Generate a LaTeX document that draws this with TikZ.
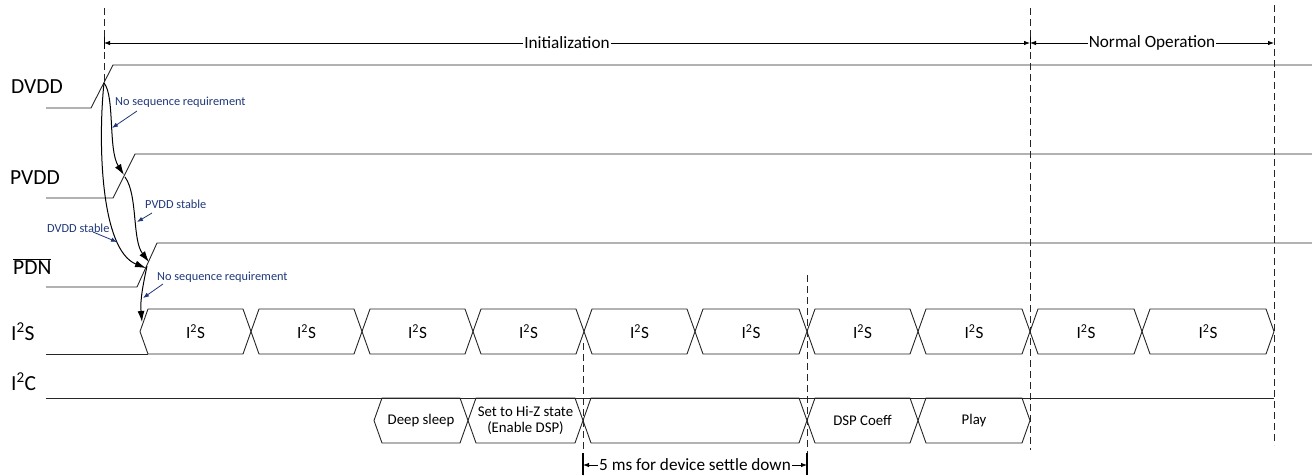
\documentclass[tikz,border=0pt]{standalone}
\usepackage{fontspec}
\setmainfont{Carlito}
\usetikzlibrary{arrows.meta}
\definecolor{navy}{RGB}{31,56,120}
\newcommand\hexbox[7]{%
  \draw[sig] (#1,{(#3+#4)/2}) -- (#1+8,#3) -- (#2-8,#3) -- (#2,{(#3+#4)/2}) -- (#2-8,#4) -- (#1+8,#4) -- cycle;
  \node[#7,align=center] (#5) at ({(#1+#2)/2},{(#3+#4)/2}) {#6};}
\begin{document}
\begin{tikzpicture}[x=1pt,y=-1pt,
  sig/.style={draw=black!85,line width=0.9pt},
  vdash/.style={draw=black!85,line width=1pt,dash pattern=on 7pt off 4pt},
  txt/.style={font=\fontsize{14.8}{15.5}\selectfont,inner sep=1pt},
  big/.style={font=\fontsize{17.2}{18}\selectfont,inner sep=1pt},
  lbl/.style={font=\fontsize{21.5}{23}\selectfont,anchor=base west,inner sep=0pt},
  note/.style={font=\fontsize{12.3}{13}\selectfont,text=navy,anchor=west,inner sep=0pt},
  dim/.style={draw=black,line width=0.8pt,-{Latex[length=6pt,width=4.5pt]}},
  curv/.style={draw=black,line width=1pt,-{Latex[length=11pt,width=7pt]}},
  barr/.style={draw=navy,line width=0.8pt,-{Latex[length=6pt,width=4.5pt]}}]
\useasboundingbox (0,0) rectangle (1312,475);

% signal labels
\node[lbl] (lDVDD) at (11,93) {DVDD};
\node[lbl] (lPVDD) at (10,184) {PVDD};
\node[lbl] (lPDN) at (13,274) {$\overline{\hbox{\fontsize{21.5}{23}\selectfont PDN}}$};
\node[lbl] (lI2S) at (11,340) {I\textsuperscript{2}S};
\node[lbl] (lI2C) at (11,390) {I\textsuperscript{2}C};

% dashed markers
\coordinate (d1t) at (104,8); \coordinate (d1b) at (104,84);
\coordinate (d2t) at (1030,8); \coordinate (d2b) at (1030,450);
\coordinate (d3t) at (1274,5); \coordinate (d3b) at (1274,445);
\coordinate (d4t) at (583,343); \coordinate (d4b) at (583,475);
\coordinate (d5t) at (807,275); \coordinate (d5b) at (807,475);
\foreach \a/\b in {d1t/d1b,d2t/d2b,d3t/d3b,d4t/d4b,d5t/d5b} \draw[vdash] (\a) -- (\b);

% phase arrows
\node[big,fill=white] (init) at (567,43) {Initialization};
\node[big,fill=white] (normal) at (1152,43) {Normal Operation};
\coordinate (i0) at (104,43); \coordinate (i1) at (1030,43); \coordinate (n1) at (1274,43);
\draw[dim] (init.west) -- (i0);
\draw[dim] (init.east) -- (i1);
\draw[dim] (normal.west) -- (i1);
\draw[dim] (normal.east) -- (n1);
\draw[line width=1pt] (104,37) -- (104,49) (1030,37) -- (1030,49);

% signals
\draw[sig] (46,108) -- (91,108) -- (113,65) -- (1312,65);
\draw[sig] (46,198) -- (113,198) -- (135,154) -- (1312,154);
\draw[sig] (46,287) -- (137,287) -- (157,243) -- (1312,243);
\draw[sig] (46,354) -- (148,354);
\draw[sig] (46,398) -- (1274,398);

% I2S segments
\foreach \xa/\xb [count=\i] in {140/251,251/362,362/473,473/584,584/695,695/807,807/918,918/1030,1030/1142,1142/1274}
  {\hexbox{\xa}{\xb}{309}{354}{s\i}{I\textsuperscript{2}S}{big}}

% I2C segments
\hexbox{374}{468}{398}{443}{c1}{Deep sleep}{txt}
\hexbox{468}{583}{398}{443}{c2}{Set to Hi-Z state\\(Enable DSP)}{txt}
\hexbox{583}{807}{398}{443}{c3}{}{txt}
\hexbox{807}{918}{398}{443}{c4}{DSP Coeff}{txt}
\hexbox{918}{1030}{398}{443}{c5}{Play}{txt}

% 5 ms
\node[big,fill=white] (settle) at (695,465) {5 ms for device settle down};
\coordinate (m0) at (583,465); \coordinate (m1) at (807,465);
\draw[dim] (settle.west) -- (m0);
\draw[dim] (settle.east) -- (m1);
\draw[line width=1.2pt] (583,453) -- (583,475) (807,453) -- (807,475);

% sequence curves
\coordinate (pD) at (104,83);
\coordinate (pP) at (124,175);
\coordinate (pPs) at (125,177);
\coordinate (pN) at (147,266);
\coordinate (pNa) at (146,268);
\coordinate (pNb) at (149,262);
\coordinate (pS) at (142,322);
\draw[curv] (pD) .. controls (115,96) and (108,150) .. (pP);
\draw[curv] (pD) .. controls (98,140) and (100,250) .. (pNa);
\draw[curv] (pPs) .. controls (138,195) and (132,240) .. (pNb);
\draw[curv] (pN) .. controls (143,285) and (140,300) .. (pS);

% blue notes
\node[note] (n1t) at (115,102) {No sequence requirement};
\node[note] (n2t) at (145,204) {PVDD stable};
\node[note] (n3t) at (47,228) {DVDD stable};
\node[note] (n4t) at (157,277) {No sequence requirement};
\coordinate (b1) at (112,128); \coordinate (b2) at (137,222);
\coordinate (b3) at (117,242); \coordinate (b4) at (143,298);
\draw[barr] (137,111) -- (b1);
\draw[barr] (152,213) -- (b2);
\draw[barr] (93,232) -- (b3);
\draw[barr] (163,284) -- (b4);
\end{tikzpicture}
\end{document}
